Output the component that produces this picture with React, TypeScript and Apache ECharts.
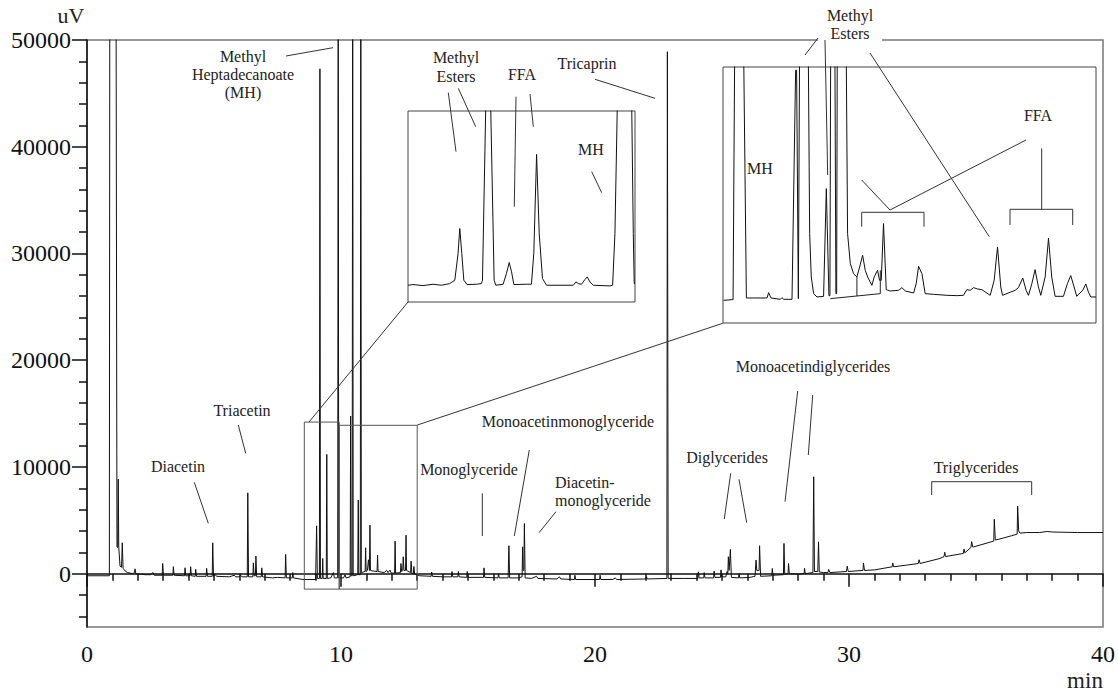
import React, { useEffect, useRef } from "react";
import * as echarts from "echarts";

// ---------- data (minutes, uV) ----------
const xTickLabels = [0, 10, 20, 30, 40];
const yMajorTicks = [0, 10000, 20000, 30000, 40000, 50000];
const yMinorTicks = [-4000, -2000, 2000, 4000, 6000, 8000, 12000, 14000, 16000, 18000, 22000, 24000, 26000, 28000, 32000, 34000, 36000, 38000, 42000, 44000, 46000, 48000];

const mainTrace: [number, number][] = [
  [0, -200], [0.88, -200], [0.9, 60000], [1.14, 60000], [1.18, 2500], [1.21, 2450], [1.23, 8860], [1.25, 2500], [1.3, 700], [1.36, 600], [1.39, 2890], [1.42, 500], [1.5, 250], [1.6, 100], [1.8, 0], [1.87, 100], [1.89, 450], [1.92, 0], [2.1, -50], [2.3, -100], [2.5, -100], [2.6, 100], [2.65, -150], [2.96, -150], [2.98, 950], [3.01, -150], [3.38, -150], [3.4, 650], [3.43, -150], [3.84, -200], [3.86, 550], [3.89, -200], [4.06, -200], [4.08, 650], [4.11, -200], [4.26, -250], [4.28, 400], [4.31, -250], [4.69, -250], [4.71, 500], [4.74, -250], [4.93, -250], [4.95, 2890], [4.98, -250], [5.05, -100], [5.1, -250], [5.6, -300], [5.8, -150], [5.85, -300], [6.0, -300], [6.05, -150], [6.1, -300], [6.31, -300], [6.33, 7570], [6.36, -300], [6.53, -300], [6.55, 1010], [6.58, -200], [6.63, -200], [6.65, 1640], [6.68, -300], [6.86, -300], [6.88, 540], [6.91, -300], [7.3, -400], [7.5, -350], [7.8, -400], [7.82, 1800], [7.85, -400], [8.08, -400], [8.1, 100], [8.13, -400], [8.5, -550], [9.0, -550], [9.04, 4480], [9.07, -450], [9.15, -450], [9.17, 47300], [9.19, -450], [9.26, -450], [9.28, 1420], [9.3, -450], [9.42, -450], [9.44, 11170], [9.46, -450], [9.6, -400], [9.7, 100], [9.74, -400], [9.87, -400], [9.89, 60000], [9.91, -400], [10.1, -400], [10.16, -100], [10.2, -400], [10.36, -300], [10.38, 14760], [10.4, -200], [10.44, -200], [10.46, 60000], [10.48, -200], [10.66, -100], [10.68, 6890], [10.7, -100], [10.76, -100], [10.78, 60000], [10.8, 100], [10.95, 200], [10.97, 2420], [10.99, 200], [11.04, 300], [11.08, 1300], [11.12, 300], [11.14, 4540], [11.16, 300], [11.25, 250], [11.42, 200], [11.44, 1730], [11.46, 200], [11.7, 100], [11.8, 300], [11.85, 100], [11.93, 330], [11.98, 50], [12.11, 50], [12.13, 3050], [12.15, 50], [12.34, 100], [12.36, 950], [12.39, 200], [12.43, 300], [12.45, 1580], [12.48, 300], [12.54, 300], [12.56, 3600], [12.58, 300], [12.74, 100], [12.76, 1170], [12.79, 0], [12.85, 0], [12.87, 670], [12.9, -50], [13.1, -200], [13.55, -250], [13.57, 150], [13.6, -250], [14.0, -300], [14.35, -300], [14.37, 200], [14.4, -300], [14.6, -300], [14.62, 200], [14.65, -300], [14.95, -350], [14.97, 200], [15.0, -350], [15.61, -350], [15.63, 540], [15.66, -350], [16.18, -400], [16.2, 0], [16.23, -400], [16.58, -400], [16.61, 2610], [16.64, -400], [17.0, -400], [17.13, -300], [17.15, 2510], [17.17, 300], [17.2, 300], [17.22, 4700], [17.25, -400], [17.5, -450], [17.7, -250], [17.75, -450], [18.5, -500], [18.6, -300], [18.65, -500], [19.19, -550], [19.21, -150], [19.24, -550], [20.18, -550], [20.2, -150], [20.23, -550], [20.7, -550], [20.8, -400], [20.85, -550], [22.0, -500], [22.03, -300], [22.06, -500], [22.83, -450], [22.85, 48900], [22.88, -450], [23.5, -450], [24.05, -450], [24.07, 170], [24.1, -400], [24.28, -400], [24.3, 100], [24.33, -400], [24.67, -400], [24.69, 250], [24.72, -350], [24.94, -350], [24.96, 350], [24.99, -300], [25.15, -300], [25.2, 200], [25.23, 0], [25.25, 1580], [25.28, 300], [25.33, 2270], [25.37, -350], [25.65, -400], [25.67, 0], [25.7, -400], [26.1, -350], [26.3, -250], [26.34, 1270], [26.37, 300], [26.46, 300], [26.48, 2610], [26.52, -250], [26.96, -200], [26.98, 480], [27.01, -150], [27.42, -100], [27.44, 2830], [27.47, -50], [27.6, 0], [27.62, 950], [27.65, 0], [28.0, -50], [28.23, 0], [28.25, 500], [28.28, 0], [28.58, 100], [28.61, 9070], [28.64, 200], [28.77, 200], [28.8, 2980], [28.83, 150], [29.0, 100], [29.17, 100], [29.2, 400], [29.25, 100], [29.9, 200], [29.93, 700], [29.97, 200], [30.55, 300], [30.57, 1000], [30.61, 300], [31.0, 350], [31.7, 640], [31.72, 1000], [31.76, 640], [32.27, 800], [32.73, 950], [32.76, 1300], [32.8, 950], [33.58, 1420], [33.74, 1600], [33.77, 2000], [33.8, 1600], [34.5, 1890], [34.53, 2300], [34.56, 1950], [34.8, 2450], [34.83, 3000], [34.87, 2500], [34.9, 2500], [35.7, 3050], [35.72, 5100], [35.76, 3150], [35.94, 3250], [36.4, 3550], [36.62, 3700], [36.64, 6320], [36.68, 4000], [36.73, 3800], [37.0, 3850], [37.5, 3850], [37.8, 3950], [38.0, 3900], [39, 3850], [40, 3850],
];

const inset1Trace: [number, number][] = [
  [8.54, -168], [8.572, -113], [8.637, -196], [8.701, -86], [8.755, -168], [8.808, -31], [8.841, 245], [8.862, 2447], [8.873, 4512], [8.886, 2447], [8.899, 245], [8.92, -113], [8.98, -86], [9.012, -31], [9.019, 245], [9.04, 14500], [9.072, 14500], [9.094, 245], [9.105, -168], [9.152, -86], [9.173, 796], [9.191, 1705], [9.206, 934], [9.221, -113], [9.302, -86], [9.334, -86], [9.349, 2447], [9.367, 10624], [9.384, 4099], [9.405, 383], [9.431, -168], [9.603, -168], [9.62, 107], [9.635, -31], [9.656, -86], [9.678, 300], [9.693, 520], [9.71, 107], [9.732, -168], [9.839, -224], [9.856, -168], [9.871, 4099], [9.886, 14500], [9.979, 14500], [9.989, 4099], [9.995, -31], [10.0, -31],
];

const inset2Trace: [number, number][] = [
  [10.005, -190], [10.073, -150], [10.081, -150], [10.094, 14810], [10.166, 14810], [10.188, -50], [10.247, -50], [10.354, -50], [10.367, 270], [10.386, -50], [10.461, -130], [10.474, -30], [10.488, -130], [10.555, -130], [10.584, 13610], [10.592, 13610], [10.606, -90], [10.611, -90], [10.616, 14810], [10.686, 14810], [10.697, 3810], [10.71, 1210], [10.729, 210], [10.756, 10], [10.809, 50], [10.831, 6510], [10.852, 90], [10.86, 90], [10.866, 14810], [10.9, 14810], [10.908, 210], [10.914, 210], [10.919, 14810], [10.991, 14810], [11.002, 3810], [11.024, 2010], [11.05, 1410], [11.077, 1210], [11.099, 1810], [11.123, 2510], [11.144, 1610], [11.163, 1210], [11.198, 710], [11.216, 1210], [11.243, 1610], [11.259, 1010], [11.273, 1010], [11.291, 4410], [11.313, 450], [11.345, 370], [11.412, 410], [11.439, 570], [11.466, 370], [11.533, 250], [11.554, 810], [11.573, 1850], [11.6, 1410], [11.626, 210], [11.693, 170], [11.8, 110], [11.881, 90], [11.934, 110], [11.961, 450], [11.988, 410], [12.015, 570], [12.047, 490], [12.082, 450], [12.149, 110], [12.181, 1010], [12.208, 3010], [12.234, 610], [12.248, 110], [12.309, 290], [12.35, 410], [12.376, 570], [12.411, 1150], [12.438, 410], [12.457, 110], [12.484, 810], [12.51, 1650], [12.537, 610], [12.556, 110], [12.591, 1210], [12.618, 3530], [12.644, 1210], [12.671, 50], [12.738, 50], [12.77, 810], [12.797, 1290], [12.824, 610], [12.845, 50], [12.893, 410], [12.918, 790], [12.939, 310], [12.958, 10], [13.0, 10],
];

const inset2Baseline: [number, number][][] = [
  [[10.863, -90], [11.265, 210]],
  [[11.077, 1210], [11.077, 70]],
  [[11.265, 1610], [11.265, 210]],
];

// zoomed regions marked on the main chromatogram: [xFrom, xTo, yFrom, yTo]
const zoomBoxes: [number, number, number, number][] = [
  [8.555, 9.93, -1450, 14200],
  [9.93, 13.0, -1450, 13900],
];

const FONT = "Liberation Serif";

function txt(x: number, y: number, text: string, extra: any = {}) {
  return {
    type: "text",
    x,
    y,
    z: 100,
    style: {
      text,
      fontFamily: FONT,
      fontSize: extra.size || 16,
      fill: "#222",
      textAlign: extra.align || "center",
      textVerticalAlign: "middle",
      lineHeight: extra.lh || 18,
    },
  };
}
function ln(x1: number, y1: number, x2: number, y2: number) {
  return {
    type: "line",
    z: 100,
    shape: { x1, y1, x2, y2 },
    style: { stroke: "#333", lineWidth: 1 },
  };
}
function pl(points: number[][]) {
  return {
    type: "polyline",
    z: 100,
    shape: { points },
    style: { stroke: "#333", lineWidth: 1, fill: null },
  };
}

export default function App() {
  const ref = useRef<HTMLDivElement>(null);
  useEffect(() => {
    if (!ref.current) return;
    const chart = echarts.init(ref.current, undefined, { renderer: "svg" });
    const lineBase = {
      type: "line",
      symbol: "none",
      showSymbol: false,
      silent: true,
      clip: true,
      animation: false,
    };
    const boxSeries = zoomBoxes.map((b) => ({
      ...lineBase,
      xAxisIndex: 0,
      yAxisIndex: 0,
      data: [
        [b[0], b[2]], [b[1], b[2]], [b[1], b[3]], [b[0], b[3]], [b[0], b[2]],
      ],
      lineStyle: { color: "#555", width: 1 },
    }));
    const baseSeries = inset2Baseline.map((seg) => ({
      ...lineBase,
      xAxisIndex: 2,
      yAxisIndex: 3,
      data: seg,
      lineStyle: { color: "#222", width: 1 },
    }));

    const graphic: any[] = [
      { type: "rect", z: 90, shape: { x: 818, y: 4, width: 64, height: 42 }, style: { fill: "#fff" } },
      txt(71, 15, "uV", { size: 22 }),
      txt(1085, 680, "min", { size: 23 }),
      txt(243, 74, "Methyl\nHeptadecanoate\n(MH)", { lh: 18 }),
      ln(286, 56, 333, 47.7),
      txt(587, 63, "Tricaprin"),
      ln(595, 79.3, 655, 98.3),
      txt(456, 66.5, "Methyl\nEsters", { lh: 19 }),
      ln(448.3, 92.7, 456, 151.7),
      ln(458.3, 88.3, 475.7, 126.7),
      txt(522, 74, "FFA"),
      ln(516, 96.7, 514.3, 206.7),
      ln(530, 94, 533.3, 126.7),
      txt(591, 149, "MH"),
      ln(591.7, 171.7, 601.7, 192.7),
      txt(850, 24, "Methyl\nEsters", { lh: 18 }),
      ln(818, 38, 805, 55),
      ln(825, 40, 827.7, 175),
      ln(870, 53, 989.3, 236.7),
      txt(760, 168, "MH"),
      txt(1038, 115, "FFA"),
      ln(861.7, 180, 890, 210),
      ln(890, 210, 1026, 140),
      pl([[861.7, 226.7], [861.7, 212.3], [924, 212.3], [924, 226.7]]),
      pl([[1010, 225], [1010, 209.3], [1072.7, 209.3], [1072.7, 225]]),
      ln(1041.7, 209.3, 1041.7, 148.3),
      txt(242, 410, "Triacetin"),
      ln(238.3, 425, 245.7, 453.3),
      txt(178, 466, "Diacetin"),
      ln(194.3, 482.3, 208.3, 523.3),
      txt(469, 469, "Monoglyceride"),
      ln(482.3, 493.3, 482.3, 536),
      txt(568, 421.7, "Monoacetinmonoglyceride"),
      ln(529.3, 450, 514.3, 536),
      txt(555, 491, "Diacetin-\nmonoglyceride", { align: "left", lh: 18 }),
      ln(556, 511.7, 539, 532.7),
      txt(727, 457.3, "Diglycerides"),
      ln(730.7, 473.3, 724.3, 519),
      ln(739, 479.3, 746.7, 522.7),
      txt(813, 366.7, "Monoacetindiglycerides"),
      ln(797.7, 391, 785, 501.7),
      ln(812.7, 395, 808.3, 455),
      txt(976, 467.7, "Triglycerides"),
      pl([[931.7, 495], [931.7, 481.7], [1031.7, 481.7], [1031.7, 495]]),
      ln(309, 422, 408.3, 301.7),
      ln(417.3, 425, 722.7, 323.3),
    ];

    chart.setOption({
      animation: false,
      backgroundColor: "#fff",
      grid: [
        { left: 87, top: 40, right: 16, bottom: 68, show: true, borderColor: "#777", borderWidth: 1.5, backgroundColor: "transparent" },
        { left: 408, top: 111, width: 227, height: 191, show: true, borderColor: "#444", borderWidth: 1, backgroundColor: "#fff" },
        { left: 723, top: 67, width: 373, height: 256, show: true, borderColor: "#444", borderWidth: 1, backgroundColor: "#fff" },
      ],
      xAxis: [
        {
          gridIndex: 0,
          type: "value",
          min: xTickLabels[0],
          max: xTickLabels[xTickLabels.length - 1],
          interval: 10,
          axisLine: { show: true, lineStyle: { color: "#111", width: 1.5 } },
          axisTick: { show: true, length: 13, lineStyle: { color: "#111", width: 1.5 } },
          minorTick: { show: true, splitNumber: 10, length: 7, lineStyle: { color: "#111", width: 1.5 } },
          axisLabel: { fontFamily: FONT, fontSize: 24, color: "#111", margin: 15, formatter: (v: number) => String(v) },
          splitLine: { show: false },
          minorSplitLine: { show: false },
        },
        { gridIndex: 1, type: "value", min: 8.54, max: 10.0, show: false },
        { gridIndex: 2, type: "value", min: 10.0, max: 13.0, show: false },
      ],
      yAxis: [
        {
          gridIndex: 0,
          type: "value",
          min: -5000,
          max: 50000,
          position: "left",
          axisLine: { show: true, lineStyle: { color: "#111", width: 1.5 } },
          axisTick: { show: true, length: 15, customValues: yMajorTicks, lineStyle: { color: "#111", width: 1.5 } },
          axisLabel: { show: true, customValues: yMajorTicks, fontFamily: FONT, fontSize: 24, color: "#111", margin: 16, formatter: (v: number) => String(v) },
          splitLine: { show: false },
        },
        {
          gridIndex: 0,
          type: "value",
          min: -5000,
          max: 50000,
          position: "left",
          offset: 0,
          axisLine: { show: false },
          axisTick: { show: true, length: 8, customValues: yMinorTicks, lineStyle: { color: "#111", width: 1.5 } },
          axisLabel: { show: false },
          splitLine: { show: false },
        },
        { gridIndex: 1, type: "value", min: -1550, max: 14200, show: false },
        { gridIndex: 2, type: "value", min: -1550, max: 13800, show: false },
      ],
      series: [
        { ...lineBase, xAxisIndex: 0, yAxisIndex: 0, data: mainTrace, lineStyle: { color: "#111", width: 1 } },
        ...boxSeries,
        { ...lineBase, xAxisIndex: 1, yAxisIndex: 2, data: inset1Trace, lineStyle: { color: "#111", width: 1 } },
        { ...lineBase, xAxisIndex: 2, yAxisIndex: 3, data: inset2Trace, lineStyle: { color: "#111", width: 1 } },
        ...baseSeries,
      ],
      graphic: { elements: graphic },
    });
    return () => chart.dispose();
  }, []);
  return (
    <div
      ref={ref}
      style={{ position: "absolute", left: 0, top: 0, width: 1119, height: 695, background: "#fff" }}
    />
  );
}
